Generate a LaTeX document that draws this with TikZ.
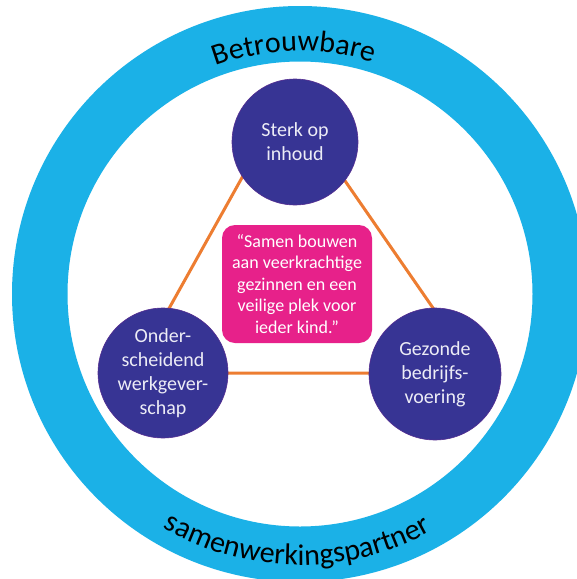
\documentclass[tikz,border=0pt]{standalone}
\usepackage{fontspec}
\setmainfont{Carlito}
\usetikzlibrary{decorations.text,calc}
\definecolor{ringblue}{RGB}{27,177,231}
\definecolor{nodepurple}{RGB}{55,52,148}
\definecolor{nodeedge}{RGB}{85,45,145}
\definecolor{quotepink}{RGB}{231,33,138}
\definecolor{lineorange}{RGB}{237,125,49}
\definecolor{nodetext}{RGB}{236,236,246}
\begin{document}
\begin{tikzpicture}[x=1pt,y=1pt,
  pillar/.style={circle, fill=nodepurple, draw=nodeedge, line width=0.6pt, text=nodetext, align=center, inner sep=0pt, font=\fontsize{20}{24}\selectfont},
  quotebox/.style={rectangle, rounded corners=13pt, fill=quotepink, text=white, align=center, minimum width=150pt, minimum height=118pt, inner sep=0pt, font=\fontsize{18}{21.5}\selectfont},
  tri/.style={draw=lineorange, line width=3pt, line join=round}
]
\useasboundingbox (0,0) rectangle (577,-579);
\clip (0,0) rectangle (577,-579);
\fill[white] (0,0) rectangle (577,-579);
\coordinate (C) at (300,-294);
\fill[ringblue, even odd rule] (C) circle[radius=288] (C) circle[radius=232.5];
% ring texts
\path[decorate, decoration={text along path, text align=center, text={|\fontsize{30}{36}\selectfont\color{black}|Betrouwbare}}]
  ($(C)+(151.4:243)$) arc[start angle=151.4, end angle=31.4, radius=243];
\path[decorate, decoration={text along path, text align=center, text={|\fontsize{30}{36}\selectfont\color{black}|samenwerkingspartner}}]
  ($(C)+(209.4:271)$) arc[start angle=209.4, end angle=329.4, radius=271];
% triangle behind the circles
\coordinate (tA) at (287,-97);
\coordinate (tB) at (133,-373);
\coordinate (tC) at (478,-373);
\draw[tri] (tA) -- (tB) -- (tC) -- cycle;
% pillars
\node[pillar, minimum size=126pt] (top) at (295,-142) {Sterk op\\inhoud};
\node[pillar, minimum size=130pt] (left) at (163,-373) {Onder-\\scheidend\\werkgever-\\schap};
\node[pillar, minimum size=132pt] (right) at (435,-374) {Gezonde\\bedrijfs-\\voering};
\node[quotebox] (quote) at (297,-284) {“Samen bouwen\\aan veerkrachtige\\gezinnen en een\\veilige plek voor\\ieder kind.”};
\end{tikzpicture}
\end{document}
